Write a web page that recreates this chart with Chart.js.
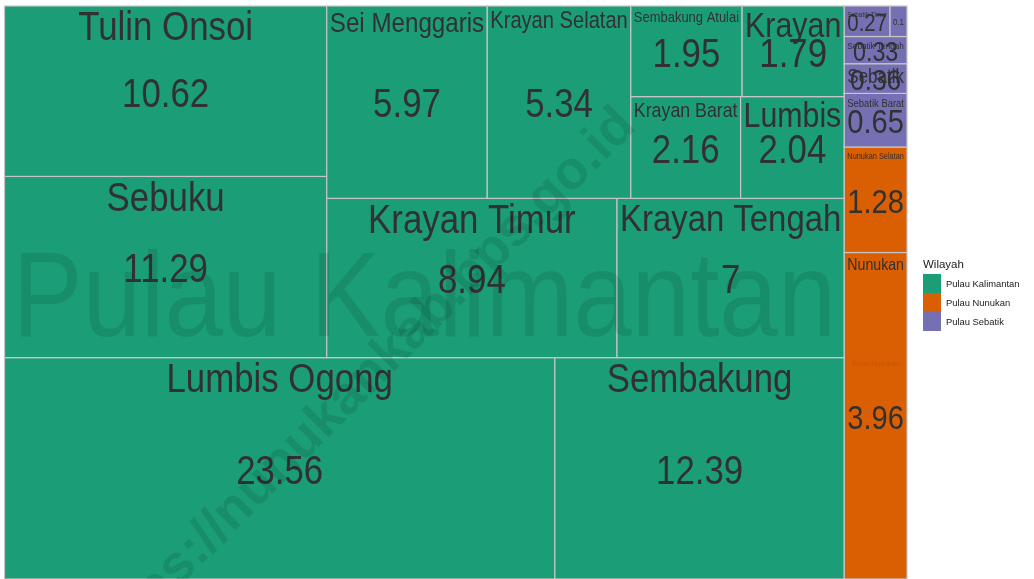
<!DOCTYPE html>
<html>
<head>
<meta charset="utf-8">
<script src="https://cdn.jsdelivr.net/npm/chart.js@4.4.0/dist/chart.umd.min.js"></script>
<style>
html, body { margin: 0; padding: 0; background: #fff; }
#wrap { width: 1034px; height: 579px; }
</style>
</head>
<body>
<div id="wrap"><canvas id="myChart"></canvas></div>
<script>
// data (persen luas wilayah per kecamatan)
const wilayah = ['Pulau Kalimantan', 'Pulau Nunukan', 'Pulau Sebatik']
const warnaWilayah = ['#1B9E77', '#D95F02', '#7570B3']
const kecamatan = ['Lumbis Ogong', 'Sembakung', 'Sebuku', 'Tulin Onsoi', 'Krayan Timur', 'Krayan Tengah',
    'Sei Menggaris', 'Krayan Selatan', 'Krayan Barat', 'Lumbis', 'Sembakung Atulai', 'Krayan',
    'Nunukan', 'Nunukan Selatan',
    'Sebatik Barat', 'Sebatik', 'Sebatik Tengah', 'Sebatik Timur', 'Sebatik Utara']
const wilayahKec = [0, 0, 0, 0, 0, 0, 0, 0, 0, 0, 0, 0, 1, 1, 2, 2, 2, 2, 2]
const persen = [23.56, 12.39, 11.29, 10.62, 8.94, 7, 5.97, 5.34, 2.16, 2.04, 1.95, 1.79,
    3.96, 1.28, 0.65, 0.36, 0.33, 0.27, 0.1]

/////////////////////////////////////////////////////////////
// squarified layout in data units (x 0..1, y 0..1, y up)
function total(arr) { return arr.reduce((s, d) => s + d.area, 0) }

function worst(row, side) {
    const thick = total(row) / side
    let w = 0
    row.forEach(d => {
        const len = d.area / thick
        w = Math.max(w, len / thick, thick / len)
    })
    return w
}

function squarify(items, rect) {
    const sumVal = items.reduce((s, d) => s + d.value, 0)
    const k = (rect.x1 - rect.x0) * (rect.y1 - rect.y0) / sumVal
    let rest = items.slice().sort((a, b) => b.value - a.value)
    rest.forEach(d => { d.area = d.value * k })
    const r = Object.assign({}, rect)
    while (rest.length) {
        const w = r.x1 - r.x0, h = r.y1 - r.y0
        const column = w >= h
        const side = column ? h : w
        let row = [rest[0]]
        let best = worst(row, side)
        for (let i = 1; i < rest.length; i++) {
            const cand = row.concat(rest[i])
            const wr = worst(cand, side)
            if (wr > best) break
            row = cand
            best = wr
        }
        rest = rest.slice(row.length)
        const thick = total(row) / side
        let pos = column ? r.y0 : r.x0
        row.forEach(d => {
            const len = d.area / thick
            if (column) { d.x0 = r.x0; d.x1 = r.x0 + thick; d.y0 = pos; d.y1 = pos + len }
            else { d.y0 = r.y0; d.y1 = r.y0 + thick; d.x0 = pos; d.x1 = pos + len }
            pos += len
        })
        if (column) r.x0 += thick
        else r.y0 += thick
    }
    return items
}

const groups = squarify(wilayah.map((nama, i) => ({
    nama, idx: i,
    value: persen.filter((p, j) => wilayahKec[j] === i).reduce((s, p) => s + p, 0)
})), { x0: 0, y0: 0, x1: 1, y1: 1 })

const datasets = groups.map(g => {
    const cells = kecamatan.map((nama, j) => ({ nama, value: persen[j], w: wilayahKec[j] }))
        .filter(c => c.w === g.idx)
    squarify(cells, g)
    return {
        label: g.nama,
        backgroundColor: warnaWilayah[g.idx],
        group: g,
        data: cells.map(c => Object.assign(c, { x: (c.x0 + c.x1) / 2, y: (c.y0 + c.y1) / 2 })),
        pointRadius: 0,
        pointHoverRadius: 0
    }
})

/////////////////////////////////////////////////////////////
// text helpers
const FONT = "'Liberation Sans', Arial, sans-serif"
const HS = 0.87    // horizontal squeeze of the labels
const CAP = 0.716
const TXT = '#313131'

function fitSize(ctx, text, maxW, maxH, base, weight) {
    ctx.font = (weight || '') + ' 100px ' + FONT
    const w100 = ctx.measureText(text).width * HS
    return Math.min(base, maxW / w100 * 100, maxH / CAP)
}

function drawText(ctx, text, cx, baseline, size, color) {
    ctx.save()
    ctx.font = size + 'px ' + FONT
    ctx.fillStyle = color
    ctx.textAlign = 'center'
    ctx.textBaseline = 'alphabetic'
    ctx.translate(cx, baseline)
    ctx.scale(HS, 1)
    ctx.fillText(text, 0, 0)
    ctx.restore()
}

function pix(chart, d) {
    const { x, y } = chart.scales
    const left = x.getPixelForValue(d.x0), right = x.getPixelForValue(d.x1)
    const top = y.getPixelForValue(d.y1), bottom = y.getPixelForValue(d.y0)
    return { left, right, top, bottom, w: right - left, h: bottom - top }
}

const treemapPlugin = {
    id: 'treemap',
    beforeDatasetsDraw(chart) {
        const ctx = chart.ctx
        // cells
        chart.data.datasets.forEach(ds => {
            ds.data.forEach(d => {
                const p = pix(chart, d)
                ctx.fillStyle = ds.backgroundColor
                ctx.fillRect(p.left, p.top, p.w, p.h)
                ctx.strokeStyle = '#c6c6c6'
                ctx.lineWidth = 1.2
                ctx.strokeRect(p.left, p.top, p.w, p.h)
            })
        })
        // group names, faded
        chart.data.datasets.forEach(ds => {
            const p = pix(chart, ds.group)
            const size = fitSize(ctx, ds.label, p.w - 16, p.h - 16, 1000)
            drawText(ctx, ds.label, p.left + p.w / 2, p.top + p.h / 2 + size * CAP / 2, size, 'rgba(0,0,0,0.1)')
        })
        // kecamatan names and values
        chart.data.datasets.forEach(ds => {
            ds.data.forEach(d => {
                const p = pix(chart, d)
                const cx = p.left + p.w / 2
                const sN = fitSize(ctx, d.nama, p.w - 6, p.h - 12, 40)
                if (sN >= 4) drawText(ctx, d.nama, cx, p.top + 5.7 + sN * CAP, sN, TXT)
                const label = String(d.value)
                const sV = fitSize(ctx, label, p.w - 6, p.h - 8, 40)
                if (sV >= 4) drawText(ctx, label, cx, p.top + p.h / 2 + sV * CAP / 2 + 1, sV, TXT)
            })
        })
    },
    afterDraw(chart) {
        const ctx = chart.ctx
        // legend
        ctx.save()
        ctx.textAlign = 'left'
        ctx.textBaseline = 'alphabetic'
        ctx.fillStyle = '#1a1a1a'
        ctx.font = '11.5px ' + FONT
        ctx.fillText('Wilayah', 923, 267.5)
        ctx.font = '9.4px ' + FONT
        wilayah.forEach((w, i) => {
            const top = 274 + i * 19
            ctx.fillStyle = warnaWilayah[i]
            ctx.fillRect(923, top, 18, 19)
            ctx.fillStyle = '#1a1a1a'
            ctx.fillText(w, 946, top + 9.5 + 3.4)
        })
        ctx.restore()
        // watermark
        ctx.save()
        ctx.translate(638, 128)
        ctx.rotate(-Math.PI / 4)
        ctx.font = 'bold 54px ' + FONT
        ctx.fillStyle = 'rgba(0,0,0,0.1)'
        ctx.textAlign = 'right'
        ctx.textBaseline = 'alphabetic'
        ctx.fillText('https://nunukankab.bps.go.id', 0, 0)
        ctx.restore()
    }
}

// config
const config = {
    type: 'scatter',
    data: { datasets },
    plugins: [treemapPlugin],
    options: {
        responsive: true,
        maintainAspectRatio: false,
        animation: false,
        events: [],
        layout: { padding: { left: 4.5, top: 6, right: 127, bottom: 0 } },
        plugins: {
            legend: { display: false },
            tooltip: { enabled: false }
        },
        scales: {
            x: { type: 'linear', min: 0, max: 1, display: false },
            y: { type: 'linear', min: 0, max: 1, display: false }
        }
    }
}

const myChart = new Chart(document.getElementById('myChart'), config)
</script>
</body>
</html>
